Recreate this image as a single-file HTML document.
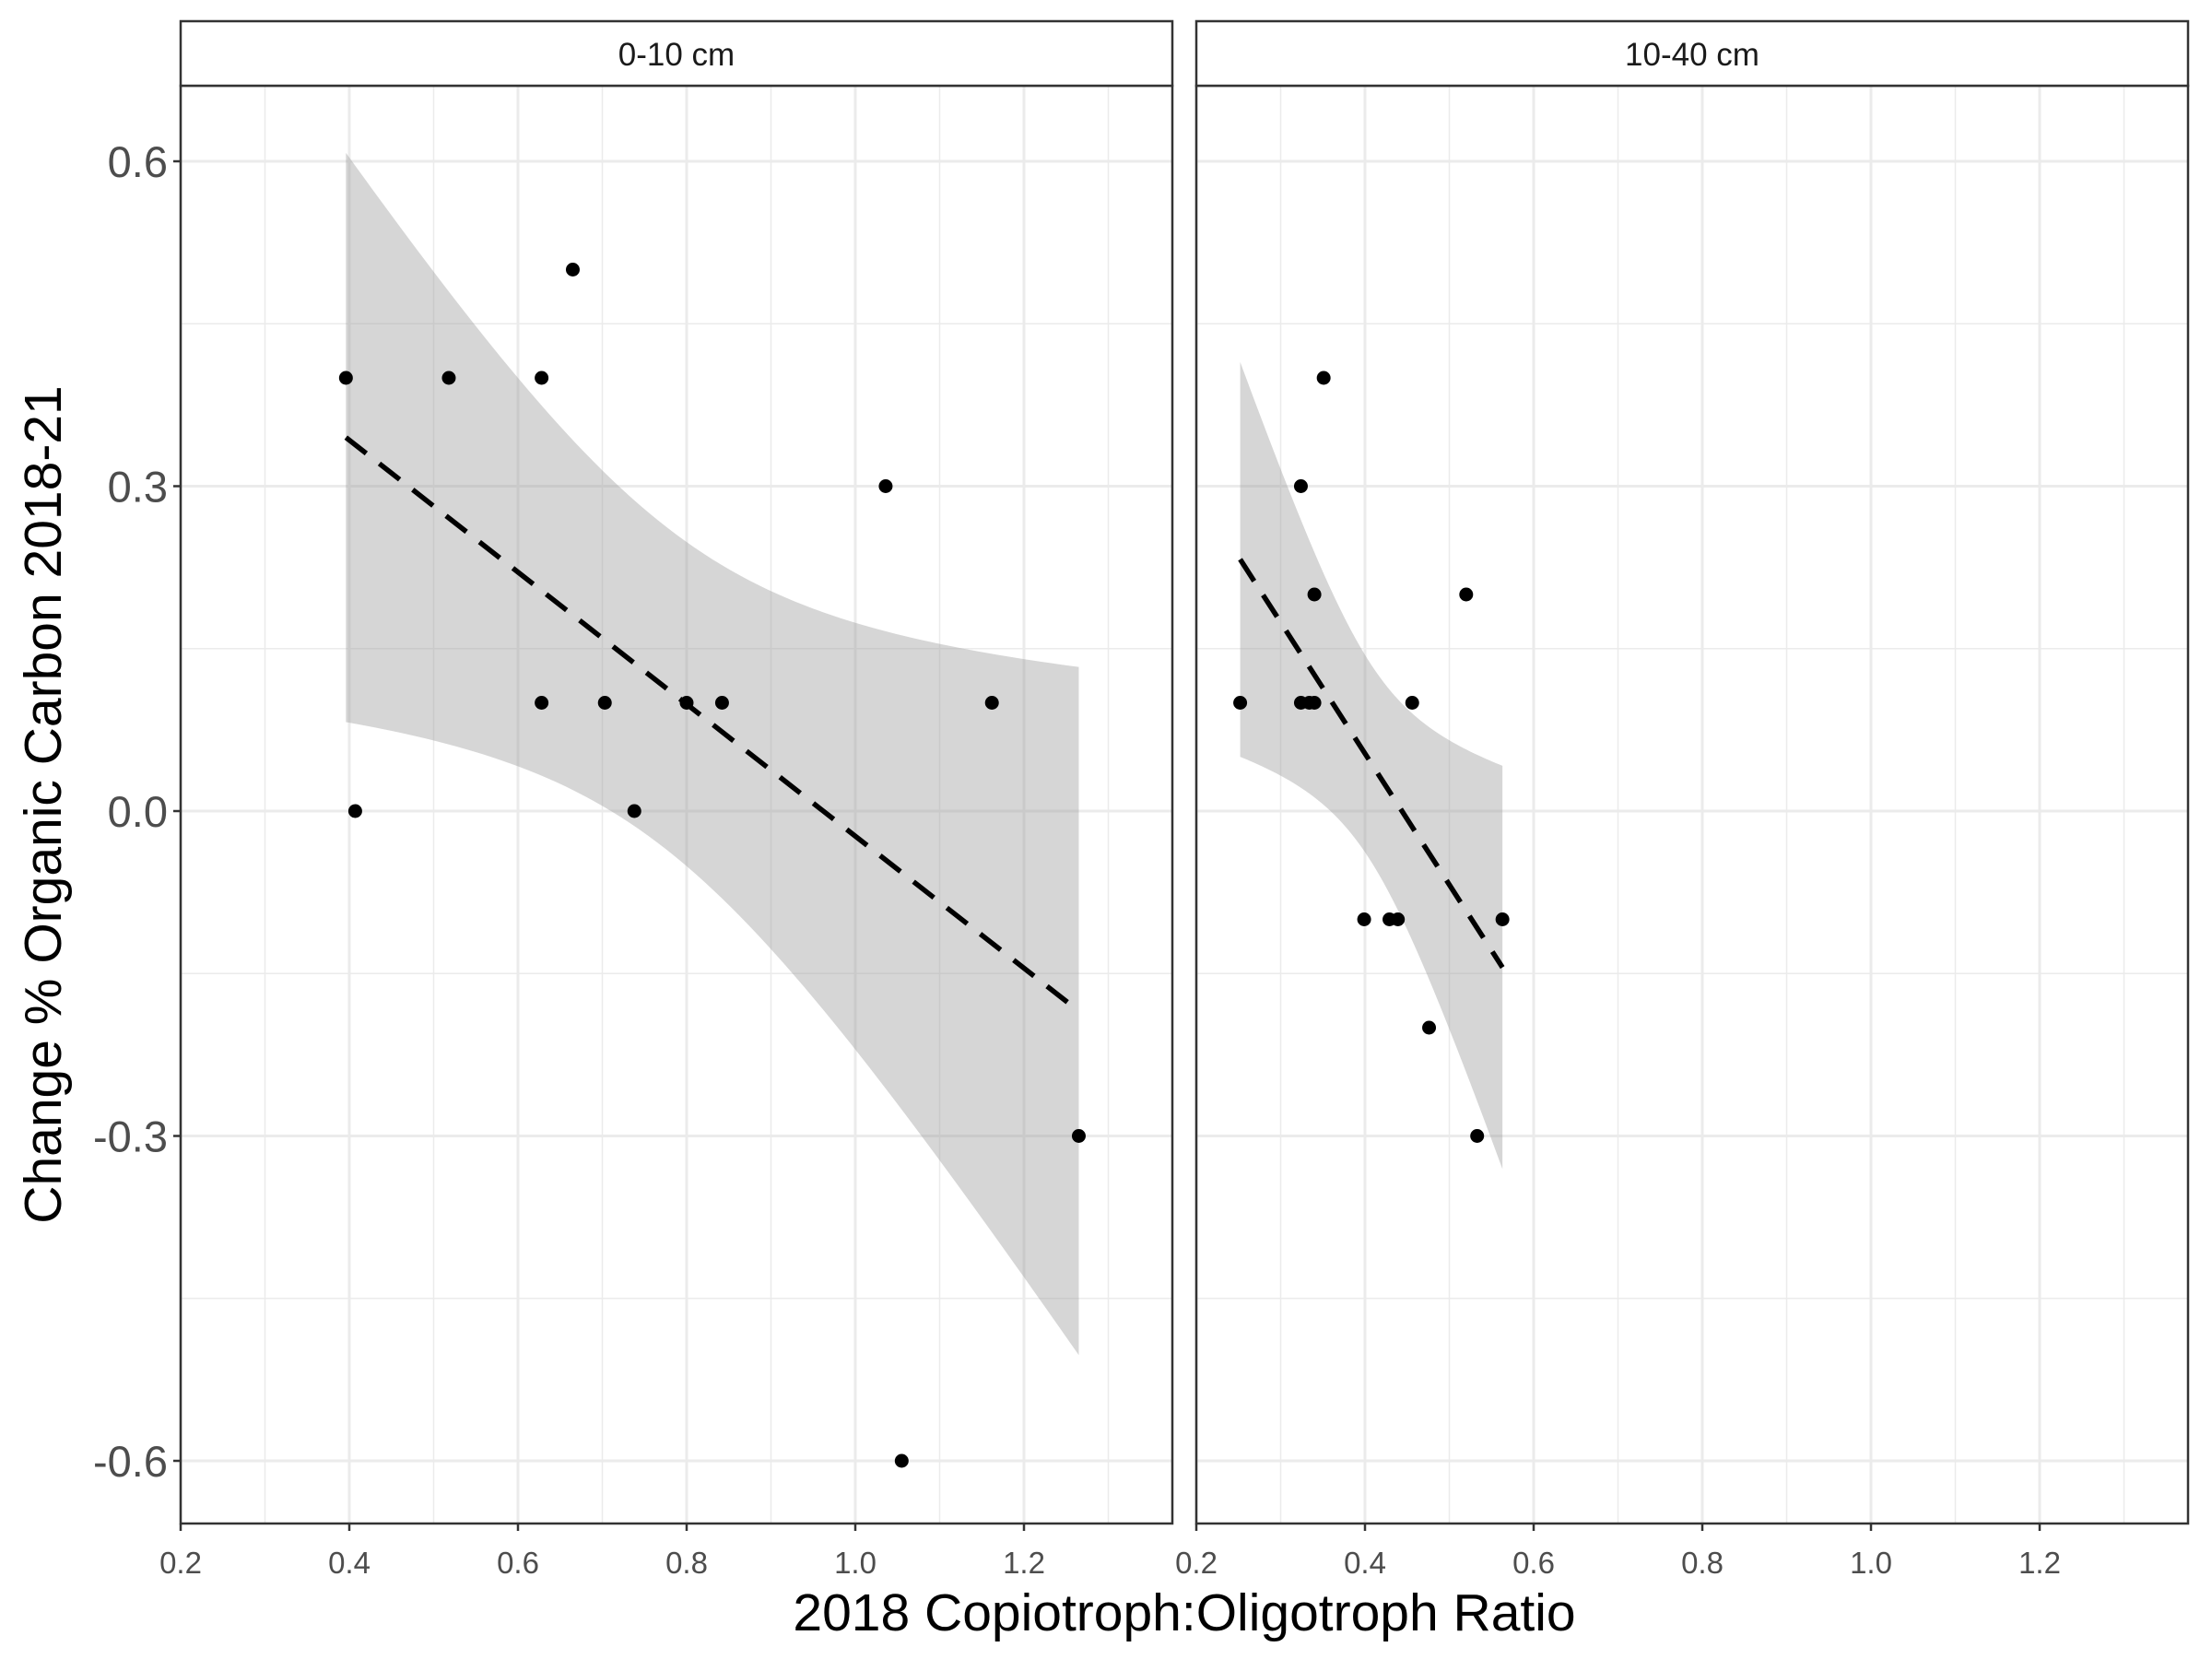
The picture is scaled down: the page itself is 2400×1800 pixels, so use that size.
<!DOCTYPE html>
<html><head><meta charset="utf-8"><style>
html,body{margin:0;padding:0;background:#fff;}
svg{display:block;font-family:"Liberation Sans",sans-serif;}
</style></head><body>
<svg id="chart" width="2400" height="1800" viewBox="0 0 2400 1800"></svg>
<script>
const panelLabels = ["0-10 cm", "10-40 cm"];
const xP1 = [0.396,0.407,0.518,0.628,0.628,0.665,0.703,0.738,0.800,0.842,1.036,1.055,1.162,1.265];
const yP1 = [0.4,0.0,0.4,0.4,0.1,0.5,0.1,0.0,0.1,0.1,0.3,-0.6,0.1,-0.3];
const xP2 = [0.252,0.324,0.324,0.334,0.340,0.340,0.351,0.399,0.429,0.439,0.456,0.476,0.520,0.533,0.563];
const yP2 = [0.1,0.3,0.1,0.1,0.1,0.2,0.4,-0.1,-0.1,-0.1,0.1,-0.2,0.2,-0.3,-0.1];
const xTicks = [0.2,0.4,0.6,0.8,1.0,1.2];
const xTickLabels = ["0.2","0.4","0.6","0.8","1.0","1.2"];
const xMinor = [0.3,0.5,0.7,0.9,1.1,1.3];
const yTicks = [0.6,0.3,0.0,-0.3,-0.6];
const yTickLabels = ["0.6","0.3","0.0","-0.3","-0.6"];
const yMinor = [0.45,0.15,-0.15,-0.45];

const NS="http://www.w3.org/2000/svg";
const svg=document.getElementById('chart');
function mk(tag,attrs,parent){const e=document.createElementNS(NS,tag);for(const k in attrs)e.setAttribute(k,attrs[k]);(parent||svg).appendChild(e);return e;}
const PT=93,PB=1653,ST=23;
const panels=[{l:196,r:1272,xs:xP1,ys:yP1},{l:1298,r:2374,xs:xP2,ys:yP2}];
const yS=v=>880-v*1175;
function tq(df){const t={10:2.228,11:2.201,12:2.179,13:2.160,14:2.145};return t[df]||2.1;}
panels.forEach((p,i)=>{
  const xS=v=>p.l+(v-0.2)*915;
  const g=mk('g',{});
  
  
  xMinor.forEach(v=>{const e=mk('line',{x1:xS(v),x2:xS(v),y1:PT,y2:PB,stroke:'#ebebeb','stroke-width':1.5},g);});
  yMinor.forEach(v=>{const e=mk('line',{x1:p.l,x2:p.r,y1:yS(v),y2:yS(v),stroke:'#ebebeb','stroke-width':1.5},g);});
  xTicks.forEach(v=>{const e=mk('line',{x1:xS(v),x2:xS(v),y1:PT,y2:PB,stroke:'#ebebeb','stroke-width':3},g);});
  yTicks.forEach(v=>{const e=mk('line',{x1:p.l,x2:p.r,y1:yS(v),y2:yS(v),stroke:'#ebebeb','stroke-width':3},g);});
  const n=p.xs.length, mx=p.xs.reduce((a,b)=>a+b)/n, my=p.ys.reduce((a,b)=>a+b)/n;
  let sxx=0,sxy=0;p.xs.forEach((x,k)=>{sxx+=(x-mx)**2;sxy+=(x-mx)*(p.ys[k]-my);});
  const b=sxy/sxx,a=my-b*mx;
  let sse=0;p.xs.forEach((x,k)=>{sse+=(p.ys[k]-a-b*x)**2;});
  const s=Math.sqrt(sse/(n-2)),t=tq(n-2);
  const x0=Math.min(...p.xs),x1=Math.max(...p.xs);
  const up=[],lo=[];
  for(let k=0;k<=80;k++){const x=x0+(x1-x0)*k/80;const f=a+b*x;const se=s*Math.sqrt(1/n+(x-mx)**2/sxx);up.push(xS(x)+','+yS(f+t*se));lo.push(xS(x)+','+yS(f-t*se));}
  const band=mk('polygon',{points:up.concat(lo.reverse()).join(' '),fill:'#999999','fill-opacity':0.4},g);
  
  p.xs.forEach((x,k)=>{const c=mk('circle',{cx:xS(x),cy:yS(p.ys[k]),r:7.5,fill:'#000'},g);});
  const ln=mk('line',{x1:xS(x0),y1:yS(a+b*x0),x2:xS(x1),y2:yS(a+b*x1),stroke:'#000','stroke-width':5.5,'stroke-dasharray':'28 18'},g);
  
  const bd=mk('rect',{x:p.l,y:PT,width:p.r-p.l,height:PB-PT,fill:'none',stroke:'#333','stroke-width':2.5},g);
  
  const st=mk('rect',{x:p.l,y:ST,width:p.r-p.l,height:PT-ST,fill:'#fff',stroke:'#333','stroke-width':2.5},g);
  
  const stt=mk('text',{x:(p.l+p.r)/2,y:71,'text-anchor':'middle','font-size':35,fill:'#1a1a1a'},g);stt.textContent=panelLabels[i];
  
  xTicks.forEach((v,k)=>{mk('line',{x1:xS(v),x2:xS(v),y1:PB,y2:PB+8,stroke:'#333','stroke-width':2.5},g);
    const tx=mk('text',{x:xS(v),y:1707,'text-anchor':'middle','font-size':33,fill:'#4d4d4d'},g);tx.textContent=xTickLabels[k];
    });
  if(i===0){yTicks.forEach((v,k)=>{mk('line',{x1:p.l-8,x2:p.l,y1:yS(v),y2:yS(v),stroke:'#333','stroke-width':2.5},g);
    const ty=mk('text',{x:p.l-14,y:yS(v)+17,'text-anchor':'end','font-size':47,fill:'#4d4d4d'},g);ty.textContent=yTickLabels[k];
    });}
});
const xt=mk('text',{x:1285,y:1769,'text-anchor':'middle','font-size':57,fill:'#000'});xt.textContent='2018 Copiotroph:Oligotroph Ratio';

const yt=mk('text',{x:0,y:0,'text-anchor':'middle','font-size':57,fill:'#000',transform:'translate(66,873) rotate(-90)'});yt.textContent='Change % Organic Carbon 2018-21';

</script>
</body></html>
